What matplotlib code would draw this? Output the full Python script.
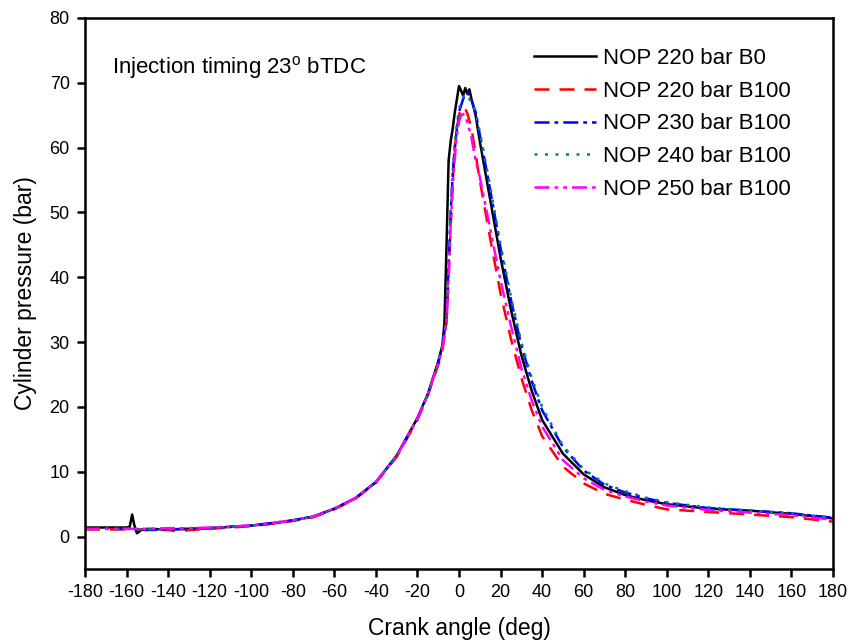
import matplotlib
matplotlib.use('Agg')
import matplotlib.pyplot as plt

plt.rcParams['font.family'] = ['Liberation Sans', 'DejaVu Sans']
plt.rcParams['axes.unicode_minus'] = False

# crank angle (deg) / cylinder pressure (bar)
ang_b0 = [-180, -170, -160, -158.5, -157.3, -156.3, -155, -153, -150, -140, -130, -120, -110, -100, -90, -80,
          -70, -60, -50, -40, -30, -20, -15, -10, -8, -7, -6, -5, -4, -3, -2, -1, 0, 1, 2, 3, 4, 5,
          6, 8, 10, 15, 20, 25, 30, 35, 40, 50, 60, 70, 80, 90, 100, 120, 140, 160, 180]
p_b0 = [1.4, 1.4, 1.4, 1.5, 3.4, 1.8, 0.5, 1.0, 1.2, 1.1, 1.2, 1.3, 1.5, 1.7, 2.0, 2.5,
        3.1, 4.3, 5.9, 8.4, 12.5, 18.3, 22.0, 27.0, 29.5, 33.0, 45.0, 58.0, 61.0, 63.0, 65.5, 67.5, 69.5, 68.8, 68.0, 69.2, 68.3, 69.0,
        67.5, 65.0, 61.0, 52.0, 43.0, 35.0, 28.0, 22.5, 18.0, 12.8, 9.6, 7.6, 6.4, 5.6, 5.0, 4.3, 4.0, 3.5, 2.8]

ang_220 = [-180, -160, -150, -140, -135, -130, -120, -100, -80, -70, -60, -50, -40, -30, -20, -15,
           -10, -8, -6, -5, -4, -3, -2, -1, 0, 1, 2, 3, 4, 6, 8, 10, 15, 20, 25, 30, 35, 40, 50, 60,
           70, 80, 90, 100, 120, 140, 160, 180]
p_220 = [1.1, 1.1, 1.1, 1.0, 0.8, 1.0, 1.2, 1.6, 2.4, 3.0, 4.2, 5.8, 8.3, 12.3, 18.0, 21.8,
         26.5, 28.8, 33.0, 40.0, 48.0, 55.0, 60.0, 63.0, 65.0, 66.0, 66.3, 66.0, 65.3, 63.0, 59.0, 55.0, 46.0, 37.5, 30.5, 24.5, 19.5, 15.5, 10.8, 8.2,
         6.6, 5.7, 4.9, 4.2, 3.8, 3.4, 3.0, 2.3]

ang_230 = [-180, -160, -150, -140, -130, -120, -100, -80, -70, -60, -50, -40, -30, -20, -15,
           -10, -8, -6, -5, -4, -3, -2, -1, 0, 1, 2, 3, 4, 5, 6, 8, 10, 15, 20, 25, 30, 35, 40, 50, 60,
           70, 80, 90, 100, 120, 140, 160, 180]
p_230 = [1.2, 1.2, 1.0, 1.1, 1.2, 1.3, 1.7, 2.5, 3.1, 4.3, 5.9, 8.4, 12.4, 18.2, 21.9,
         26.8, 29.2, 34.0, 42.0, 50.0, 56.0, 60.0, 63.0, 65.5, 66.5, 67.5, 68.2, 68.5, 68.0, 67.3, 65.5, 62.0, 53.5, 44.5, 36.5, 29.5, 24.0, 19.5, 13.8, 10.2,
         8.0, 6.8, 5.9, 5.2, 4.4, 4.0, 3.6, 2.9]

ang_240 = [-180, -160, -150, -140, -130, -120, -100, -80, -70, -60, -50, -40, -30, -20, -15,
           -10, -8, -6, -5, -4, -3, -2, -1, 0, 1, 2, 3, 4, 5, 6, 8, 10, 15, 20, 25, 30, 35, 40, 50, 60,
           70, 80, 90, 100, 120, 140, 160, 180]
p_240 = [1.2, 1.2, 1.1, 1.1, 1.2, 1.3, 1.7, 2.5, 3.1, 4.3, 5.9, 8.4, 12.4, 18.2, 21.9,
         26.8, 29.2, 34.0, 42.0, 50.0, 56.5, 60.5, 63.5, 66.0, 67.0, 67.8, 68.3, 68.0, 67.5, 67.0, 65.5, 62.5, 54.0, 45.0, 37.0, 30.0, 24.5, 20.0, 14.0, 10.4,
         8.2, 7.0, 6.0, 5.3, 4.5, 4.0, 3.6, 2.9]

ang_250 = [-180, -160, -150, -140, -130, -120, -100, -80, -70, -60, -50, -40, -30, -20, -15,
           -10, -8, -6, -5, -4, -3, -2, -1, 0, 1, 2, 3, 4, 6, 8, 10, 15, 20, 25, 30, 35, 40, 50, 60,
           70, 80, 90, 100, 120, 140, 160, 180]
p_250 = [1.2, 1.2, 1.2, 1.3, 1.3, 1.4, 1.7, 2.5, 3.1, 4.3, 5.9, 8.4, 12.4, 18.2, 21.9,
         26.8, 29.0, 33.0, 40.0, 48.0, 54.0, 58.5, 62.0, 64.0, 65.0, 65.2, 64.8, 64.0, 61.5, 58.0, 55.5, 47.5, 39.5, 32.5, 26.0, 21.0, 17.0, 11.8, 9.0,
         7.2, 6.2, 5.4, 4.8, 4.1, 3.7, 3.3, 2.6]

labels = ['NOP 220 bar B0', 'NOP 220 bar B100', 'NOP 230 bar B100',
          'NOP 240 bar B100', 'NOP 250 bar B100']

fig = plt.figure(figsize=(8.62, 6.43), dpi=100)
ax = fig.add_axes([85/862, 74/643, 748/862, 551/643])

ax.plot(ang_b0, p_b0, color='black', lw=1.8, label=labels[0])
ax.plot(ang_220, p_220, color='red', lw=1.8, dashes=(6, 4), label=labels[1])
ax.plot(ang_230, p_230, color='blue', lw=1.8, dashes=(6, 2, 1.5, 2), label=labels[2])
ax.plot(ang_240, p_240, color='#008080', lw=1.8, dashes=(1.2, 3), label=labels[3])
ax.plot(ang_250, p_250, color='magenta', lw=1.8, dashes=(6, 2, 1.5, 2, 1.5, 2), label=labels[4])

ax.set_xlim(-180, 180)
ax.set_ylim(-5, 80)
ax.set_xticks(range(-180, 181, 20))
ax.set_yticks(range(0, 81, 10))
ax.tick_params(direction='out', length=6, width=1.8, labelsize=13, pad=5, top=False, right=False)
for s in ax.spines.values():
    s.set_linewidth(1.8)

ax.set_xlabel('Crank angle (deg)', fontsize=16.5, labelpad=11)
ax.set_ylabel('Cylinder pressure (bar)', fontsize=16.5, labelpad=9)

ax.text(-167, 72.4, r'Injection timing 23$^\mathregular{o}$ bTDC', fontsize=16, va='center')

ax.legend(loc='upper left', frameon=False, fontsize=16, handlelength=2.8,
          handletextpad=0.3, labelspacing=0.53, borderpad=0, borderaxespad=0,
          bbox_to_anchor=(0.6, 0.946))

fig.savefig('out.png', dpi=100)
